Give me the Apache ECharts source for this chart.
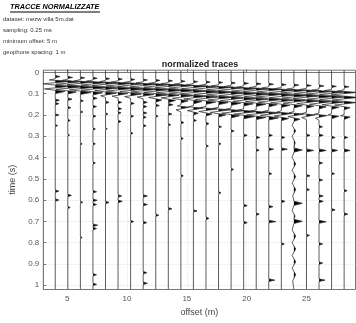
<!DOCTYPE html>
<html>
<head>
<meta charset="utf-8">
<script src="https://cdn.jsdelivr.net/npm/echarts@6/dist/echarts.min.js"></script>
<style>
  html, body { margin: 0; padding: 0; background: #fff; }
  #grafico { width: 356px; height: 323px; }
</style>
</head>
<body>
<div id="grafico"></div>
<script>
// posizione (offset, m) di ogni traccia
var offsets = [4.0, 5.05, 6.1, 7.15, 8.2, 9.25, 10.3, 11.35, 12.4, 13.45, 14.5, 15.55,
  16.6, 17.65, 18.7, 19.75, 20.8, 21.85, 22.9, 23.95, 25.0, 26.05, 27.1, 28.15];
var tickTempo = [0, 0.1, 0.2, 0.3, 0.4, 0.5, 0.6, 0.7, 0.8, 0.9, 1];
var tickOffset = [5, 10, 15, 20, 25];
var intestazione = ['dataset: mezw villa 5m.dat', 'sampling: 0.25 ms', 'minimum offset: 5 m', 'geophone spacing: 1 m'];

// campioni [tempo (s), ampiezza normalizzata]
var traccia01 = [[-0.01,0],[0.015,0],[0.02,0.4],[0.025,0],[0.03,0],[0.036,-0.5],[0.042,1.3],[0.054,-1.1],[0.066,1.2],[0.078,-0.9],[0.09,0.8],[0.1,0],[0.125,0],[0.131,0.35],[0.137,0],[0.142,0],[0.147,0.3],[0.153,0],[0.195,0],[0.2,0.3],[0.206,0],[0.245,0],[0.25,0.2],[0.256,0],[0.552,0],[0.558,0.3],[0.564,0],[0.594,0],[0.6,0.3],[0.606,0],[1.02,0]];
var traccia02 = [[-0.01,0],[0.019,0],[0.024,0.4],[0.029,0],[0.032,0],[0.038,-0.5],[0.044,1.2],[0.056,-1.0],[0.068,1.3],[0.08,-1.0],[0.092,0.7],[0.102,0],[0.12,0],[0.126,0.35],[0.132,0],[0.16,0],[0.166,0.25],[0.172,0],[0.22,0],[0.226,0.2],[0.232,0],[0.29,0],[0.295,0.15],[0.3,0],[0.572,0],[0.578,0.3],[0.584,0],[0.63,0],[0.635,0.2],[0.64,0],[1.02,0]];
var traccia03 = [[-0.01,0],[0.021,0],[0.026,0.35],[0.031,0],[0.034,0],[0.04,-0.5],[0.046,1.1],[0.058,-1.1],[0.07,1.2],[0.082,-0.9],[0.094,0.9],[0.104,0],[0.128,0],[0.134,0.25],[0.14,0],[0.18,0],[0.186,0.2],[0.192,0],[0.33,0],[0.336,0.15],[0.342,0],[0.605,0],[0.61,0.2],[0.616,0],[0.77,0],[0.776,0.15],[0.782,0],[1.02,0]];
var traccia04 = [[-0.01,0],[0.023,0],[0.028,0.35],[0.033,0],[0.036,0],[0.042,-0.6],[0.048,1.2],[0.06,-1.0],[0.072,1.3],[0.084,-1.0],[0.096,0.8],[0.106,0],[0.116,0],[0.122,0.35],[0.128,0],[0.155,0],[0.161,0.3],[0.167,0],[0.2,0],[0.206,0.25],[0.212,0],[0.26,0],[0.266,0.2],[0.272,0],[0.33,0],[0.336,0.2],[0.342,0],[0.42,0],[0.426,0.2],[0.432,0],[0.555,0],[0.561,0.3],[0.567,0],[0.595,0],[0.601,0.35],[0.607,0],[0.615,0],[0.621,0.3],[0.627,0],[0.712,0],[0.718,0.4],[0.724,0],[0.728,0],[0.734,0.3],[0.74,0],[0.945,0],[0.951,0.3],[0.957,0],[0.99,0],[0.996,0.3],[1.002,0],[1.02,0]];
var traccia05 = [[-0.01,0],[0.025,0],[0.03,0.35],[0.035,0],[0.038,0],[0.044,-0.5],[0.05,1.2],[0.062,-1.1],[0.074,1.1],[0.086,-0.9],[0.098,0.9],[0.11,-0.4],[0.118,0],[0.135,0],[0.141,0.3],[0.147,0],[0.19,0],[0.196,0.2],[0.202,0],[0.26,0],[0.265,0.15],[0.27,0],[0.605,0],[0.611,0.3],[0.617,0],[1.02,0]];
var traccia06 = [[-0.01,0],[0.027,0],[0.032,0.35],[0.037,0],[0.04,0],[0.046,-0.6],[0.052,1.2],[0.064,-1.0],[0.076,1.2],[0.088,-1.0],[0.1,0.8],[0.112,-0.5],[0.12,0],[0.135,0],[0.141,0.3],[0.147,0],[0.165,0],[0.171,0.3],[0.177,0],[0.185,0],[0.19,0.25],[0.196,0],[0.225,0],[0.231,0.25],[0.237,0],[0.575,0],[0.581,0.3],[0.587,0],[0.6,0],[0.606,0.35],[0.612,0],[1.02,0]];
var traccia07 = [[-0.01,0],[0.029,0],[0.034,0.35],[0.039,0],[0.042,0],[0.048,-0.6],[0.054,1.1],[0.066,-1.1],[0.078,1.3],[0.09,-0.9],[0.102,0.9],[0.114,-0.5],[0.122,0],[0.14,0],[0.146,0.3],[0.152,0],[0.2,0],[0.206,0.25],[0.212,0],[0.28,0],[0.286,0.2],[0.292,0],[0.695,0],[0.701,0.25],[0.707,0],[1.02,0]];
var traccia08 = [[-0.01,0],[0.031,0],[0.036,0.35],[0.041,0],[0.044,0],[0.05,-0.6],[0.056,1.2],[0.068,-1.1],[0.08,1.2],[0.092,-1.0],[0.104,0.9],[0.116,-0.5],[0.124,0],[0.135,0],[0.141,0.35],[0.147,0],[0.155,0],[0.161,0.3],[0.167,0],[0.185,0],[0.191,0.3],[0.197,0],[0.205,0],[0.211,0.25],[0.217,0],[0.245,0],[0.251,0.25],[0.257,0],[0.575,0],[0.581,0.35],[0.587,0],[0.615,0],[0.621,0.35],[0.627,0],[0.7,0],[0.706,0.3],[0.712,0],[0.935,0],[0.941,0.3],[0.947,0],[0.985,0],[0.991,0.35],[0.997,0],[1.02,0]];
var traccia09 = [[-0.01,0],[0.033,0],[0.038,0.35],[0.043,0],[0.046,0],[0.052,-0.6],[0.058,1.2],[0.07,-1.0],[0.082,1.1],[0.094,-1.0],[0.106,1.0],[0.118,-0.6],[0.13,0.5],[0.14,0],[0.15,0],[0.156,0.3],[0.162,0],[0.2,0],[0.206,0.2],[0.212,0],[0.665,0],[0.671,0.25],[0.677,0],[1.02,0]];
var traccia10 = [[-0.01,0],[0.035,0],[0.04,0.35],[0.045,0],[0.048,0],[0.054,-0.6],[0.06,1.2],[0.072,-1.1],[0.084,1.3],[0.096,-1.0],[0.108,0.9],[0.12,-0.6],[0.132,0.6],[0.142,0],[0.146,0],[0.152,0.4],[0.158,0],[0.19,0],[0.196,0.3],[0.202,0],[0.24,0],[0.246,0.2],[0.252,0],[0.635,0],[0.641,0.3],[0.647,0],[1.02,0]];
var traccia11 = [[-0.01,0],[0.037,0],[0.042,0.35],[0.047,0],[0.05,0],[0.056,-0.6],[0.062,1.1],[0.074,-1.0],[0.086,1.2],[0.098,-1.0],[0.11,1.0],[0.122,-0.7],[0.134,0.6],[0.144,0],[0.152,0],[0.158,-0.3],[0.164,0.7],[0.176,-0.4],[0.186,0],[0.23,0],[0.236,0.25],[0.242,0],[0.305,0],[0.311,0.2],[0.317,0],[0.48,0],[0.486,0.2],[0.492,0],[1.02,0]];
var traccia12 = [[-0.01,0],[0.039,0],[0.044,0.35],[0.049,0],[0.053,0],[0.059,-0.6],[0.065,1.2],[0.077,-1.0],[0.089,1.1],[0.101,-1.1],[0.113,1.1],[0.125,-0.8],[0.137,0.7],[0.148,0],[0.156,0],[0.162,-0.4],[0.168,0.8],[0.18,-0.5],[0.192,0.4],[0.2,0],[0.22,0],[0.226,0.25],[0.232,0],[0.645,0],[0.651,0.3],[0.657,0],[1.02,0]];
var traccia13 = [[-0.01,0],[0.041,0],[0.046,0.35],[0.051,0],[0.056,0],[0.062,-0.6],[0.068,1.1],[0.08,-1.1],[0.092,1.2],[0.104,-1.0],[0.116,1.0],[0.128,-0.9],[0.14,0.8],[0.15,0],[0.16,0],[0.166,-0.5],[0.172,0.9],[0.184,-0.6],[0.196,0.5],[0.205,0],[0.235,0],[0.241,0.25],[0.247,0],[0.34,0],[0.346,0.2],[0.352,0],[0.68,0],[0.686,0.25],[0.692,0],[1.02,0]];
var traccia14 = [[-0.01,0],[0.043,0],[0.048,0.35],[0.053,0],[0.058,0],[0.064,-0.6],[0.07,1.2],[0.082,-1.0],[0.094,1.1],[0.106,-1.0],[0.118,1.1],[0.13,-0.9],[0.142,0.8],[0.152,0],[0.164,0],[0.17,-0.5],[0.176,1.0],[0.188,-0.7],[0.2,0.6],[0.21,0],[0.25,0],[0.256,0.25],[0.262,0],[0.33,0],[0.336,0.2],[0.342,0],[0.56,0],[0.566,0.2],[0.572,0],[1.02,0]];
var traccia15 = [[-0.01,0],[0.045,0],[0.05,0.35],[0.055,0],[0.061,0],[0.067,-0.6],[0.073,1.1],[0.085,-1.1],[0.097,1.2],[0.109,-1.0],[0.121,1.0],[0.133,-0.9],[0.145,0.8],[0.155,0],[0.168,0],[0.174,-0.5],[0.18,1.1],[0.192,-0.8],[0.204,0.7],[0.214,0],[0.27,0],[0.276,0.25],[0.282,0],[0.45,0],[0.456,0.2],[0.462,0],[1.02,0]];
var traccia16 = [[-0.01,0],[0.047,0],[0.052,0.4],[0.057,0],[0.064,0],[0.07,-0.6],[0.076,1.2],[0.088,-1.0],[0.1,1.1],[0.112,-1.0],[0.124,1.1],[0.136,-0.9],[0.148,0.8],[0.158,0],[0.172,0],[0.178,-0.5],[0.184,1.2],[0.196,-0.8],[0.208,0.9],[0.218,0],[0.29,0],[0.296,0.3],[0.302,0],[0.62,0],[0.626,0.3],[0.632,0],[0.7,0],[0.706,0.3],[0.712,0],[1.02,0]];
var traccia17 = [[-0.01,0],[0.049,0],[0.054,0.4],[0.059,0],[0.066,0],[0.072,-0.6],[0.078,1.1],[0.09,-1.1],[0.102,1.2],[0.114,-1.0],[0.126,1.0],[0.138,-0.9],[0.15,0.8],[0.16,0],[0.176,0],[0.182,-0.5],[0.188,1.1],[0.2,-0.8],[0.212,0.8],[0.222,0],[0.3,0],[0.306,0.3],[0.312,0],[0.36,0],[0.366,0.25],[0.372,0],[0.66,0],[0.666,0.25],[0.672,0],[1.02,0]];
var traccia18 = [[-0.01,0],[0.051,0],[0.056,0.4],[0.061,0],[0.068,0],[0.074,-0.6],[0.08,1.1],[0.092,-1.0],[0.104,1.1],[0.116,-1.1],[0.128,1.1],[0.14,-0.9],[0.152,0.7],[0.162,0],[0.178,0],[0.184,-0.5],[0.19,1.0],[0.202,-0.7],[0.214,0.8],[0.224,0],[0.29,0],[0.296,0.3],[0.302,0],[0.355,0],[0.361,0.4],[0.367,0],[0.47,0],[0.476,0.25],[0.482,0],[0.625,0],[0.631,0.35],[0.637,0],[0.695,0],[0.701,0.6],[0.707,0],[0.97,0],[0.976,0.5],[0.982,0],[1.02,0]];
var traccia19 = [[-0.01,0],[0.053,0],[0.058,0.4],[0.063,0],[0.071,0],[0.077,-0.6],[0.083,1.2],[0.095,-1.0],[0.107,1.1],[0.119,-1.0],[0.131,1.0],[0.143,-0.9],[0.155,0.7],[0.165,0],[0.181,0],[0.187,-0.4],[0.193,0.9],[0.205,-0.6],[0.217,0.6],[0.227,0],[0.3,0],[0.306,0.3],[0.312,0],[0.355,0],[0.361,0.5],[0.367,0],[0.6,0],[0.606,0.3],[0.612,0],[0.8,0],[0.806,0.25],[0.812,0],[1.02,0]];
var traccia20 = [[-0.01,0],[0.055,0],[0.06,0.4],[0.065,0],[0.073,0],[0.079,-0.6],[0.085,1.1],[0.097,-1.1],[0.109,1.2],[0.121,-1.0],[0.133,1.0],[0.145,-0.9],[0.157,0.7],[0.167,0],[0.184,0],[0.19,-0.4],[0.196,0.8],[0.208,-0.5],[0.22,0.5],[0.23,0],[0.25,-0.15],[0.275,0.15],[0.3,-0.15],[0.33,0.1],[0.355,0],[0.365,0.7],[0.375,0],[0.4,-0.15],[0.43,0.15],[0.46,-0.15],[0.49,0.15],[0.52,-0.15],[0.55,0.15],[0.58,-0.1],[0.605,0],[0.615,0.7],[0.625,0],[0.65,-0.15],[0.675,0.1],[0.69,0],[0.7,0.7],[0.71,0],[0.74,-0.15],[0.77,0.15],[0.8,-0.15],[0.83,0.15],[0.86,-0.15],[0.89,0.15],[0.92,-0.15],[0.95,0.15],[0.98,-0.1],[1.02,0]];
var traccia21 = [[-0.01,0],[0.057,0],[0.062,0.4],[0.067,0],[0.075,0],[0.081,-0.6],[0.087,1.2],[0.099,-1.0],[0.111,1.1],[0.123,-1.1],[0.135,1.1],[0.147,-0.8],[0.159,0.6],[0.169,0],[0.188,0],[0.194,-0.4],[0.2,0.7],[0.212,-0.4],[0.222,0],[0.29,0],[0.296,0.3],[0.302,0],[0.36,0],[0.367,0.6],[0.374,0],[0.48,0],[0.486,0.3],[0.492,0],[0.545,0],[0.551,0.25],[0.557,0],[0.76,0],[0.766,0.25],[0.772,0],[1.02,0]];
var traccia22 = [[-0.01,0],[0.059,0],[0.064,0.4],[0.069,0],[0.078,0],[0.084,-0.6],[0.09,1.1],[0.102,-1.1],[0.114,1.2],[0.126,-1.0],[0.138,1.0],[0.15,-0.8],[0.162,0.6],[0.172,0],[0.191,0],[0.197,-0.4],[0.203,0.7],[0.215,-0.3],[0.225,0],[0.25,0],[0.256,0.3],[0.262,0],[0.29,0],[0.296,0.35],[0.302,0],[0.36,0],[0.367,0.6],[0.374,0],[0.42,0],[0.426,0.3],[0.432,0],[0.5,0],[0.506,0.3],[0.512,0],[0.575,0],[0.581,0.35],[0.587,0],[0.6,0],[0.606,0.35],[0.612,0],[0.695,0],[0.702,0.6],[0.709,0],[0.8,0],[0.806,0.3],[0.812,0],[0.89,0],[0.896,0.3],[0.902,0],[0.97,0],[0.976,0.5],[0.982,0],[1.02,0]];
var traccia23 = [[-0.01,0],[0.061,0],[0.066,0.4],[0.071,0],[0.08,0],[0.086,-0.6],[0.092,1.2],[0.104,-1.0],[0.116,1.1],[0.128,-1.0],[0.14,1.0],[0.152,-0.8],[0.164,0.6],[0.174,0],[0.194,0],[0.2,-0.3],[0.206,0.6],[0.218,0],[0.3,0],[0.306,0.3],[0.312,0],[0.36,0],[0.367,0.5],[0.374,0],[0.47,0],[0.476,0.25],[0.482,0],[0.64,0],[0.646,0.3],[0.652,0],[1.02,0]];
var traccia24 = [[-0.01,0],[0.063,0],[0.068,0.4],[0.073,0],[0.082,0],[0.088,-0.6],[0.094,1.1],[0.106,-1.1],[0.118,1.2],[0.13,-1.0],[0.142,1.0],[0.154,-0.8],[0.166,0.5],[0.176,0],[0.198,0],[0.204,-0.3],[0.21,0.5],[0.222,0],[0.3,0],[0.306,0.3],[0.312,0],[0.36,0],[0.367,0.5],[0.374,0],[0.55,0],[0.556,0.25],[0.562,0],[0.66,0],[0.666,0.3],[0.672,0],[1.02,0]];

var tracce = [traccia01, traccia02, traccia03, traccia04, traccia05, traccia06, traccia07, traccia08,
  traccia09, traccia10, traccia11, traccia12, traccia13, traccia14, traccia15, traccia16,
  traccia17, traccia18, traccia19, traccia20, traccia21, traccia22, traccia23, traccia24];

var FONT = '"Liberation Sans", Arial, sans-serif';

inizializzaGrafico();

// lobi positivi (variable area) di una traccia, con gli zeri interpolati
function lobiPositivi(campioni) {
  var lobi = [];
  var lobo = [];
  for (var k = 0; k < campioni.length; k++) {
    var p = campioni[k];
    if (k > 0) {
      var q = campioni[k - 1];
      if ((q[1] > 0) !== (p[1] > 0)) {
        var tc = q[0] + (p[0] - q[0]) * q[1] / (q[1] - p[1]);
        if (q[1] > 0) {
          lobo.push([tc, 0]);
          lobi.push(lobo);
          lobo = [];
        } else {
          lobo = [[tc, 0]];
        }
      }
    }
    if (p[1] > 0) lobo.push(p);
  }
  if (lobo.length) lobi.push(lobo);
  return lobi;
}

function disegnaTraccia(params, api) {
  var i = api.value(2);
  var x0 = offsets[i];
  var campioni = tracce[i];
  var figli = [];

  lobiPositivi(campioni).forEach(function (lobo) {
    figli.push({
      type: 'polygon',
      shape: { points: lobo.map(function (c) { return api.coord([x0 + c[1], c[0]]); }) },
      style: { fill: '#000', stroke: null }
    });
  });

  figli.push({
    type: 'polyline',
    shape: { points: campioni.map(function (c) { return api.coord([x0 + c[1], c[0]]); }) },
    style: { stroke: '#333', lineWidth: 0.8, fill: null }
  });

  return { type: 'group', children: figli };
}

function inizializzaGrafico() {
  var chartDom = document.getElementById('grafico');
  var myChart = echarts.init(chartDom, null, { renderer: 'canvas' });

  var graficaTesto = [
    {
      type: 'text', left: 10, top: 3,
      style: { text: 'TRACCE NORMALIZZATE', font: 'italic bold 7.3px ' + FONT, fill: '#000' }
    },
    {
      type: 'line', shape: { x1: 10, y1: 12, x2: 100, y2: 12 },
      style: { stroke: '#000', lineWidth: 1 }
    }
  ];
  intestazione.forEach(function (riga, k) {
    graficaTesto.push({
      type: 'text', left: 3, top: 16 + k * 11,
      style: { text: riga, font: '6px ' + FONT, fill: '#333' }
    });
  });

  var option = {
    backgroundColor: '#fff',
    animation: false,
    title: {
      text: 'normalized traces',
      left: 200, top: 60, textAlign: 'center', padding: 0,
      textStyle: { fontFamily: FONT, fontSize: 9, fontWeight: 'bold', color: '#222' }
    },
    graphic: graficaTesto,
    grid: {
      left: 43.3, right: 0.5, top: 70.2, bottom: 33.5,
      show: true, borderColor: '#777', borderWidth: 1, backgroundColor: '#fff'
    },
    xAxis: {
      type: 'value', min: 3, max: 29.1,
      name: 'offset (m)', nameLocation: 'middle', nameGap: 19,
      nameTextStyle: { fontFamily: FONT, fontSize: 9, color: '#444' },
      axisLine: { lineStyle: { color: '#777' } },
      axisTick: { inside: true, length: 3, customValues: tickOffset, lineStyle: { color: '#777' } },
      axisLabel: { customValues: tickOffset, fontFamily: FONT, fontSize: 8, color: '#555', margin: 5 },
      splitLine: { show: true, lineStyle: { color: '#e6e6e6', type: 'dotted', width: 0.8 } }
    },
    yAxis: {
      type: 'value', min: -0.01, max: 1.02, inverse: true,
      name: 'time (s)', nameLocation: 'middle', nameGap: 21, nameRotate: 90,
      nameTextStyle: { fontFamily: FONT, fontSize: 9, color: '#444' },
      axisLine: { lineStyle: { color: '#777' } },
      axisTick: { inside: true, length: 3, customValues: tickTempo, lineStyle: { color: '#777' } },
      axisLabel: { customValues: tickTempo, fontFamily: FONT, fontSize: 8, color: '#555', margin: 4 },
      splitLine: { show: true, lineStyle: { color: '#e0e0e0', type: 'dotted', width: 0.8 } }
    },
    series: [
      {
        type: 'custom',
        clip: true,
        renderItem: disegnaTraccia,
        data: offsets.map(function (o, i) { return [o, 0, i]; })
      }
    ]
  };

  option && myChart.setOption(option);
}
</script>
</body>
</html>
